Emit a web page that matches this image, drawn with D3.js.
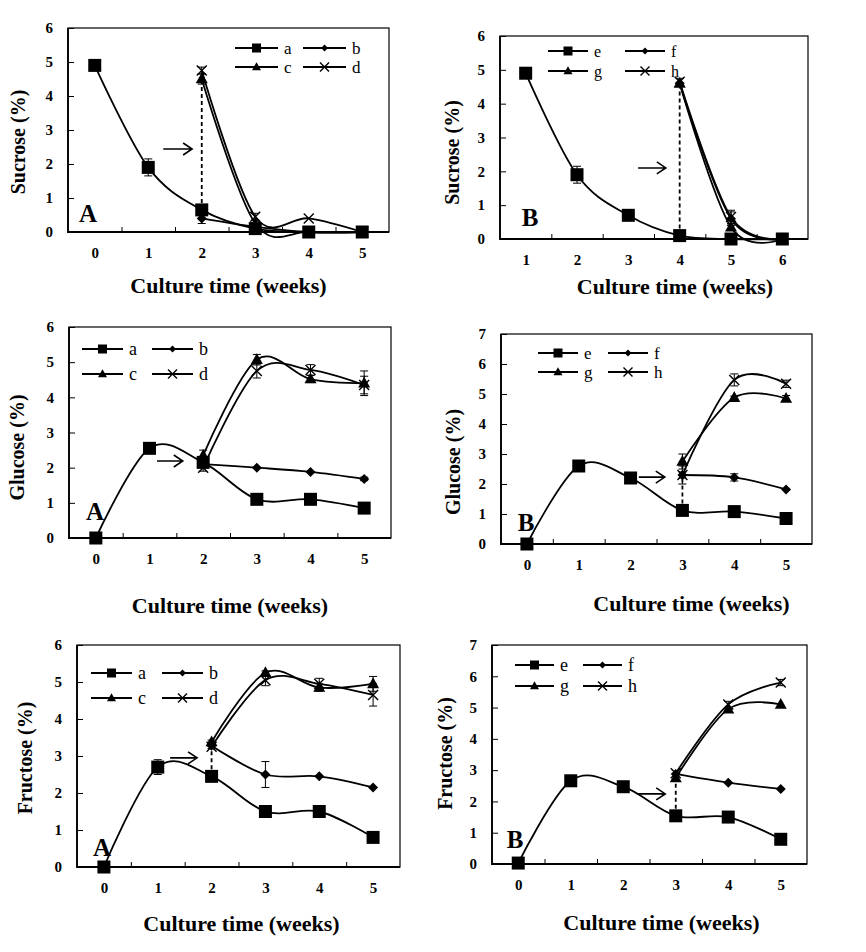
<!DOCTYPE html>
<html><head><meta charset="utf-8">
<script src="https://cdn.jsdelivr.net/npm/d3@7"></script>
<style>
html,body{margin:0;padding:0;background:#fff;}
svg{display:block;}
text{font-family:'Liberation Serif','Times New Roman',serif;fill:#000;}
</style></head><body>
<svg id="chart" width="866" height="952"></svg>
<script>
// ---------- data ----------
const weeks0 = ["0","1","2","3","4","5"];
const weeks1 = ["1","2","3","4","5","6"];
const yTicks6 = [0,1,2,3,4,5,6];
const yTicks7 = [0,1,2,3,4,5,6,7];
const namesA = ["a","b","c","d"];
const namesB = ["e","f","g","h"];

// Sucrose A
const sucA_a = [4.9,1.9,0.65,0.1,0,0];
const sucA_b = [null,null,0.4,0.15,0,0];
const sucA_c = [null,null,4.5,0.25,0,0];
const sucA_d = [null,null,4.75,0.45,0.4,0];
const sucA_aErr = [0,0.25,0.1,0,0,0];
const sucA_bErr = [null,null,0.15,0,0,0];
const sucA_cErr = [null,null,0.15,0,0,0];
const sucA_dErr = [null,null,0.1,0.1,0,0];
// Sucrose B
const sucB_e = [4.9,1.9,0.7,0.1,0,0];
const sucB_f = [null,null,null,4.6,0.6,0];
const sucB_g = [null,null,null,4.6,0.35,0];
const sucB_h = [null,null,null,4.65,0.65,0];
const sucB_eErr = [0,0.25,0,0,0,0];
const sucB_fErr = [null,null,null,0,0.2,0];
const sucB_gErr = [null,null,null,0,0.1,0];
const sucB_hErr = [null,null,null,0.1,0.2,0];
// Glucose A
const gluA_a = [0,2.55,2.15,1.1,1.1,0.85];
const gluA_b = [null,null,2.1,2.0,1.88,1.68];
const gluA_c = [null,null,2.35,5.07,4.52,4.4];
const gluA_d = [null,null,2.0,4.75,4.78,4.35];
const gluA_aErr = [0,0,0,0,0,0];
const gluA_bErr = [null,null,0,0,0,0.05];
const gluA_cErr = [null,null,0.15,0.15,0.1,0.35];
const gluA_dErr = [null,null,0.1,0.2,0.15,0.25];
// Glucose B
const gluB_e = [0,2.6,2.2,1.12,1.08,0.85];
const gluB_f = [null,null,null,2.3,2.22,1.82];
const gluB_g = [null,null,null,2.75,4.88,4.85];
const gluB_h = [null,null,null,2.3,5.47,5.34];
const gluB_eErr = [0,0,0,0,0,0];
const gluB_fErr = [null,null,null,0.1,0.12,0];
const gluB_gErr = [null,null,null,0.25,0.05,0.1];
const gluB_hErr = [null,null,null,0.3,0.2,0.12];
// Fructose A
const fruA_a = [0,2.7,2.45,1.5,1.5,0.8];
const fruA_b = [null,null,3.28,2.5,2.45,2.15];
const fruA_c = [null,null,3.38,5.25,4.85,4.95];
const fruA_d = [null,null,3.25,5.05,4.95,4.65];
const fruA_aErr = [0,0.2,0,0,0,0];
const fruA_bErr = [null,null,0,0.35,0,0];
const fruA_cErr = [null,null,0.05,0.05,0.1,0.2];
const fruA_dErr = [null,null,0.05,0.15,0.15,0.3];
// Fructose B
const fruB_e = [0.03,2.66,2.47,1.54,1.5,0.79];
const fruB_f = [null,null,null,2.88,2.6,2.4];
const fruB_g = [null,null,null,2.75,4.95,5.1];
const fruB_h = [null,null,null,2.9,5.1,5.8];
const fruB_eErr = [0,0.1,0,0,0,0];
const fruB_fErr = [null,null,null,0,0,0];
const fruB_gErr = [null,null,null,0,0,0];
const fruB_hErr = [null,null,null,0,0.1,0.1];

const markers = ["square","diamond","triangle","cross"];

// ---------- layout ----------
const panels = [
  {cats:weeks0, yt:yTicks6, title:"Sucrose (%)", letter:"A", names:namesA,
   vals:[sucA_a,sucA_b,sucA_c,sucA_d], errs:[sucA_aErr,sucA_bErr,sucA_cErr,sucA_dErr],
   r:{x:68,y:28,w:321,h:204}, leg:{dx:167,dx2:235,dy1:20,dy2:39,len:43,fs:17},
   arrow:[1.28,1.82,2.44], dash:[2,0,3], letterPos:[20,-10], ytx:-50, yty:12, xtx:0, xty:53},
  {cats:weeks1, yt:yTicks6, title:"Sucrose (%)", letter:"B", names:namesB,
   vals:[sucB_e,sucB_f,sucB_g,sucB_h], errs:[sucB_eErr,sucB_fErr,sucB_gErr,sucB_hErr],
   r:{x:500,y:36,w:308,h:203}, leg:{dx:48,dx2:125,dy1:15,dy2:35,len:40,fs:16},
   arrow:[2.19,2.73,2.1], dash:[3,0,3], letterPos:[30,-13], ytx:-48, yty:15, xtx:21, xty:47},
  {cats:weeks0, yt:yTicks6, title:"Glucose (%)", letter:"A", names:namesA,
   vals:[gluA_a,gluA_b,gluA_c,gluA_d], errs:[gluA_aErr,gluA_bErr,gluA_cErr,gluA_dErr],
   r:{x:69,y:327,w:322,h:211}, leg:{dx:13,dx2:83,dy1:22,dy2:47,len:41,fs:18},
   arrow:[1.14,1.62,2.19], dash:null, letterPos:[26,-18], ytx:-52, yty:15, xtx:0, xty:67},
  {cats:weeks0, yt:yTicks7, title:"Glucose (%)", letter:"B", names:namesB,
   vals:[gluB_e,gluB_f,gluB_g,gluB_h], errs:[gluB_eErr,gluB_fErr,gluB_gErr,gluB_hErr],
   r:{x:501,y:334,w:311,h:210}, leg:{dx:37,dx2:107,dy1:19,dy2:38,len:40,fs:17},
   arrow:[2.16,2.66,2.23], dash:[3,0,3], letterPos:[25,-13], ytx:-48, yty:23, xtx:35, xty:59},
  {cats:weeks0, yt:yTicks6, title:"Fructose (%)", letter:"A", names:namesA,
   vals:[fruA_a,fruA_b,fruA_c,fruA_d], errs:[fruA_aErr,fruA_bErr,fruA_cErr,fruA_dErr],
   r:{x:77,y:645,w:323,h:222}, leg:{dx:14,dx2:85,dy1:28,dy2:53,len:41,fs:18},
   arrow:[1.23,1.73,2.95], dash:[2,0,1], letterPos:[25,-11], ytx:-52, yty:2, xtx:3, xty:56},
  {cats:weeks0, yt:yTicks7, title:"Fructose (%)", letter:"B", names:namesB,
   vals:[fruB_e,fruB_f,fruB_g,fruB_h], errs:[fruB_eErr,fruB_fErr,fruB_gErr,fruB_hErr],
   r:{x:492,y:645,w:315,h:219}, leg:{dx:23,dx2:91,dy1:20,dy2:41,len:39,fs:18},
   arrow:[2.26,2.8,2.24], dash:[3,0,2], letterPos:[23,-16], ytx:-47, yty:-1, xtx:12, xty:58}
];

const svg = d3.select("#chart");

function drawMarker(g, type, cx, cy, s) {
  if (type === "square") {
    g.append("rect").attr("x", cx - s/2).attr("y", cy - s/2).attr("width", s).attr("height", s)
      .attr("fill", "#000");
  } else if (type === "diamond") {
    const h = s/2;
    g.append("path").attr("d", `M${cx},${cy-h}L${cx+h},${cy}L${cx},${cy+h}L${cx-h},${cy}Z`).attr("fill", "#000");
  } else if (type === "triangle") {
    const h = s*0.9;
    g.append("path").attr("d", `M${cx},${cy-h*0.6}L${cx+s/2},${cy+h*0.4}L${cx-s/2},${cy+h*0.4}Z`).attr("fill", "#000");
  } else {
    const h = s/2;
    g.append("path").attr("d", `M${cx-h},${cy-h}L${cx+h},${cy+h}M${cx+h},${cy-h}L${cx-h},${cy+h}`)
      .attr("stroke", "#000").attr("stroke-width", 1.4).attr("fill", "none");
  }
}

const plotSizes = {square:13, diamond:10, triangle:12, cross:10};
const legSizes = {square:9, diamond:7, triangle:9, cross:9};

panels.forEach(p => {
  const r = p.r;
  const n = p.cats.length;
  const g = svg.append("g");
  const x = d3.scaleLinear().domain([-0.5, n - 0.5]).range([r.x, r.x + r.w]);
  const ymax = p.yt[p.yt.length - 1];
  const y = d3.scaleLinear().domain([0, ymax]).range([r.y + r.h, r.y]);

  // frame
  g.append("rect").attr("x", r.x).attr("y", r.y).attr("width", r.w).attr("height", r.h)
    .attr("fill", "none").attr("stroke", "#000").attr("stroke-width", 1.2);
  g.append("path").attr("d", `M${r.x},${r.y}L${r.x},${r.y + r.h}L${r.x + r.w},${r.y + r.h}`)
    .attr("fill", "none").attr("stroke", "#000").attr("stroke-width", 1.8);

  // y axis
  const ya = g.append("g").attr("transform", `translate(${r.x},0)`)
    .call(d3.axisLeft(y).tickValues(p.yt).tickSizeInner(-6).tickSizeOuter(0).tickPadding(15).tickFormat(d3.format("d")));
  ya.select(".domain").remove();
  ya.selectAll("text").attr("font-size", 15).attr("font-weight", "bold")
    .style("font-family", "'Liberation Serif',serif");
  ya.selectAll("line").attr("stroke", "#000");

  // x axis labels
  const xa = g.append("g").attr("transform", `translate(0,${r.y + r.h})`)
    .call(d3.axisBottom(x).tickValues(d3.range(n)).tickSize(0).tickPadding(15).tickFormat(i => p.cats[i]));
  xa.select(".domain").remove();
  xa.selectAll("text").attr("font-size", 15).attr("font-weight", "bold")
    .style("font-family", "'Liberation Serif',serif");
  // x inner ticks at category boundaries
  const xt = g.append("g").attr("transform", `translate(0,${r.y + r.h})`)
    .call(d3.axisBottom(x).tickValues(d3.range(0.5, n - 1, 1)).tickSizeInner(-5).tickSizeOuter(0).tickFormat(""));
  xt.select(".domain").remove();
  xt.selectAll("line").attr("stroke", "#000");

  // titles
  g.append("text").attr("transform", `translate(${r.x + p.ytx},${r.y + r.h/2 + p.yty}) rotate(-90)`)
    .attr("text-anchor", "middle").attr("dominant-baseline", "central")
    .attr("font-size", 20).attr("font-weight", "bold").text(p.title);
  g.append("text").attr("x", r.x + r.w/2 + p.xtx).attr("y", r.y + r.h + p.xty)
    .attr("text-anchor", "middle").attr("dominant-baseline", "central")
    .attr("font-size", 22).attr("font-weight", "bold").text("Culture time (weeks)");

  // panel letter
  g.append("text").attr("x", r.x + p.letterPos[0]).attr("y", r.y + r.h + p.letterPos[1])
    .attr("text-anchor", "middle").attr("font-size", 25).attr("font-weight", "bold").text(p.letter);

  // dashed connector
  if (p.dash) {
    const [i, s1, s2] = p.dash;
    const vals = p.vals.map(v => v[i]).filter(v => v != null);
    g.append("line").attr("x1", x(i)).attr("x2", x(i))
      .attr("y1", y(p.vals[s1][i])).attr("y2", y(d3.max(vals)))
      .attr("stroke", "#000").attr("stroke-width", 1.8).attr("stroke-dasharray", "4,3");
  }

  // arrow
  const [ax0, ax1, ay] = p.arrow;
  const X0 = x(ax0), X1 = x(ax1), Y = y(ay);
  g.append("path").attr("d", `M${X0},${Y}L${X1},${Y}M${X1-9},${Y-6}L${X1},${Y}L${X1-9},${Y+6}`)
    .attr("stroke", "#000").attr("stroke-width", 1.6).attr("fill", "none");

  // series lines
  const line = d3.line().defined(d => d.v != null).x(d => x(d.i)).y(d => y(d.v))
    .curve(d3.curveCardinal.tension(0));
  p.vals.forEach((vals, si) => {
    const pts = vals.map((v, i) => ({i, v}));
    g.append("path").attr("d", line(pts)).attr("fill", "none")
      .attr("stroke", "#000").attr("stroke-width", 1.8);
  });
  // error bars
  p.vals.forEach((vals, si) => {
    const errs = p.errs[si];
    vals.forEach((v, i) => {
      if (v == null || !errs[i]) return;
      const e = errs[i], cx = x(i);
      g.append("path").attr("d",
        `M${cx},${y(v - e)}L${cx},${y(v + e)}M${cx-4},${y(v + e)}L${cx+4},${y(v + e)}M${cx-4},${y(v - e)}L${cx+4},${y(v - e)}`)
        .attr("stroke", "#000").attr("stroke-width", 1).attr("fill", "none");
    });
  });
  // markers
  p.vals.forEach((vals, si) => {
    const m = markers[si];
    vals.forEach((v, i) => {
      if (v == null) return;
      drawMarker(g, m, x(i), y(v), plotSizes[m]);
    });
  });

  // legend
  const L = p.leg;
  p.names.forEach((name, si) => {
    const lx = r.x + (si % 2 === 0 ? L.dx : L.dx2);
    const ly = r.y + (si < 2 ? L.dy1 : L.dy2);
    g.append("line").attr("x1", lx).attr("x2", lx + L.len).attr("y1", ly).attr("y2", ly)
      .attr("stroke", "#000").attr("stroke-width", 1.8);
    drawMarker(g, markers[si], lx + L.len/2, ly, legSizes[markers[si]]);
    g.append("text").attr("x", lx + L.len + 6).attr("y", ly).attr("dominant-baseline", "central")
      .attr("font-size", L.fs).text(name);
  });
});
</script>
</body></html>
